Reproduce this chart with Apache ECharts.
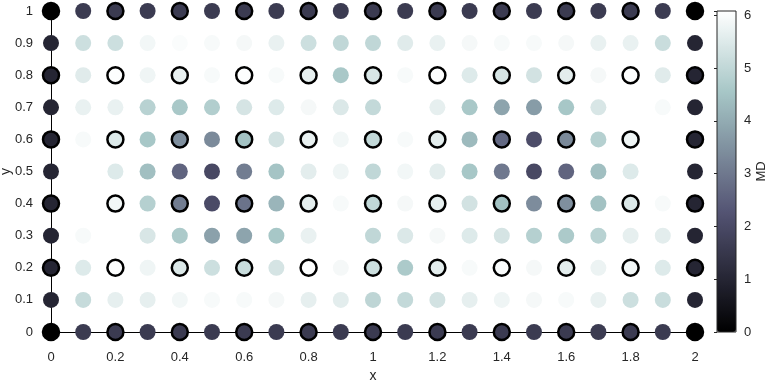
<!DOCTYPE html>
<html>
<head>
<meta charset="utf-8">
<script src="https://cdn.jsdelivr.net/npm/echarts@6/dist/echarts.min.js"></script>
<style>html,body{margin:0;padding:0;background:#fff}#c{width:766px;height:382px}</style>
</head>
<body>
<div id="c"></div>
<script>
const xs = [0,0.1,0.2,0.3,0.4,0.5,0.6,0.7,0.8,0.9,1,1.1,1.2,1.3,1.4,1.5,1.6,1.7,1.8,1.9,2];
const ys = [0,0.1,0.2,0.3,0.4,0.5,0.6,0.7,0.8,0.9,1];
const xTicks = [0,0.2,0.4,0.6,0.8,1,1.2,1.4,1.6,1.8,2];
const cbTicks = [0,1,2,3,4,5,6];
const cbMax = 6.08;

const mdY00 = [0,1.6,1.6,1.6,1.6,1.6,1.6,1.6,1.6,1.6,1.6,1.6,1.6,1.6,1.6,1.6,1.6,1.6,1.6,1.6,0];
const mdY01 = [1.0,5.1,5.65,5.65,5.85,5.95,5.95,5.9,5.65,5.6,4.95,5.05,5.3,5.65,5.8,5.9,5.95,5.7,5.2,5.15,1.0];
const mdY02 = [1.0,5.5,6.05,5.8,5.45,5.2,5.15,5.35,6.05,5.9,5.2,4.65,5.6,5.95,6.0,5.9,5.6,5.75,5.85,5.5,1.0];
const mdY03 = [1.0,5.95,6.08,5.4,4.65,3.8,3.85,4.55,5.7,6.08,5.0,5.45,5.9,5.5,5.35,4.8,4.65,4.85,5.65,5.6,1.0];
const mdY04 = [1.0,6.08,5.85,4.8,3.1,2.0,2.9,4.2,5.6,5.95,5.0,5.9,5.65,5.3,4.45,3.4,3.45,4.45,5.45,5.95,1.0];
const mdY05 = [1.0,6.08,5.5,4.4,2.6,1.95,3.1,4.5,5.6,5.8,5.0,5.85,5.6,4.55,3.0,1.95,2.6,4.4,5.5,6.08,1.0];
const mdY06 = [1.0,5.95,5.5,4.55,3.45,3.35,4.45,5.3,5.7,5.85,5.05,5.95,5.6,4.3,2.7,2.05,3.35,4.8,5.8,6.08,1.0];
const mdY07 = [1.0,5.7,5.7,4.85,4.6,4.75,5.35,5.5,5.9,5.45,5.05,6.08,5.65,4.6,3.85,3.7,4.55,5.4,6.08,5.95,1.0];
const mdY08 = [1.0,5.55,6.05,5.8,5.7,5.95,6.05,5.95,5.65,4.6,5.4,5.95,6.05,5.5,5.35,5.3,5.6,5.9,6.05,5.55,1.0];
const mdY09 = [1.0,5.2,5.2,5.85,6.0,5.95,5.9,5.7,5.2,5.0,5.0,5.55,5.7,5.9,5.95,5.95,5.9,5.7,5.7,5.15,1.0];
const mdY10 = [0,1.6,1.6,1.6,1.6,1.6,1.6,1.6,1.6,1.6,1.6,1.6,1.6,1.6,1.6,1.6,1.6,1.6,1.6,1.6,0];

const rows = [mdY00,mdY01,mdY02,mdY03,mdY04,mdY05,mdY06,mdY07,mdY08,mdY09,mdY10];
const plain = [], ringed = [];
rows.forEach((row, j) => {
  row.forEach((v, i) => {
    const p = [xs[i], ys[j], v];
    if (i % 2 === 0 && j % 2 === 0) ringed.push(p); else plain.push(p);
  });
});

const bone = ['#000000','#1c1c27','#38384d','#545474','#707a8f','#8ba1ab','#a7c7c7','#d3e3e3','#ffffff'];
const txt = '#262626';
const font = 'Liberation Sans, Arial, Helvetica, sans-serif';

const chart = echarts.init(document.getElementById('c'), null, {renderer: 'canvas'});
chart.setOption({
  animation: false,
  backgroundColor: '#fff',
  grid: [
    {left: 51, top: 11, width: 644, height: 321, containLabel: false, outerBoundsMode: 'none'},
    {left: 717, top: 11, width: 19, height: 321, show: true, borderColor: txt, borderWidth: 1, backgroundColor: 'transparent', z: 10, containLabel: false, outerBoundsMode: 'none'}
  ],
  xAxis: [
    {type: 'value', gridIndex: 0, min: 0, max: 2, interval: 0.2,
     name: 'x', nameLocation: 'middle', nameGap: 37, nameMoveOverlap: false,
     nameTextStyle: {color: txt, fontSize: 14, fontFamily: font},
     axisLine: {show: true, onZero: false, lineStyle: {color: '#000', width: 1}},
     axisTick: {show: false}, splitLine: {show: false},
     axisLabel: {color: txt, fontSize: 13, fontFamily: font, margin: 19}},
    {type: 'value', gridIndex: 1, min: 0, max: 1, show: false}
  ],
  yAxis: [
    {type: 'value', gridIndex: 0, min: 0, max: 1, interval: 0.1,
     name: 'y', nameLocation: 'middle', nameGap: 38, nameRotate: 90, nameMoveOverlap: false,
     nameTextStyle: {color: txt, fontSize: 14, fontFamily: font},
     axisLine: {show: true, onZero: false, lineStyle: {color: '#000', width: 1}},
     axisTick: {show: false}, splitLine: {show: false},
     axisLabel: {color: txt, fontSize: 13, fontFamily: font, margin: 18}},
    {type: 'value', gridIndex: 1, min: 0, max: cbMax, interval: 1, position: 'right', z: 10,
     name: 'MD', nameLocation: 'middle', nameGap: 19, nameRotate: 90, nameMoveOverlap: false,
     nameTextStyle: {color: txt, fontSize: 13, fontFamily: font},
     axisLine: {show: false},
     axisTick: {show: true, inside: true, length: 3, lineStyle: {color: txt}},
     splitLine: {show: false},
     axisLabel: {color: txt, fontSize: 13, fontFamily: font, margin: 8,
       formatter: v => (cbTicks.indexOf(v) >= 0 ? String(v) : '')}}
  ],
  visualMap: {
    type: 'continuous', min: 0, max: cbMax, dimension: 2, seriesIndex: [0, 1],
    left: 717, top: 11, itemWidth: 19, itemHeight: 321, padding: 0,
    calculable: false, hoverLink: false, showLabel: false, text: null,
    inRange: {color: bone}
  },
  series: [
    {type: 'scatter', xAxisIndex: 0, yAxisIndex: 0, data: plain, symbolSize: 16, clip: false,
     itemStyle: {opacity: 1}, z: 3},
    {type: 'scatter', xAxisIndex: 0, yAxisIndex: 0, data: ringed, symbolSize: 16, clip: false,
     itemStyle: {opacity: 1, borderColor: '#000', borderWidth: 2.5}, z: 4}
  ]
});
</script>
</body>
</html>
